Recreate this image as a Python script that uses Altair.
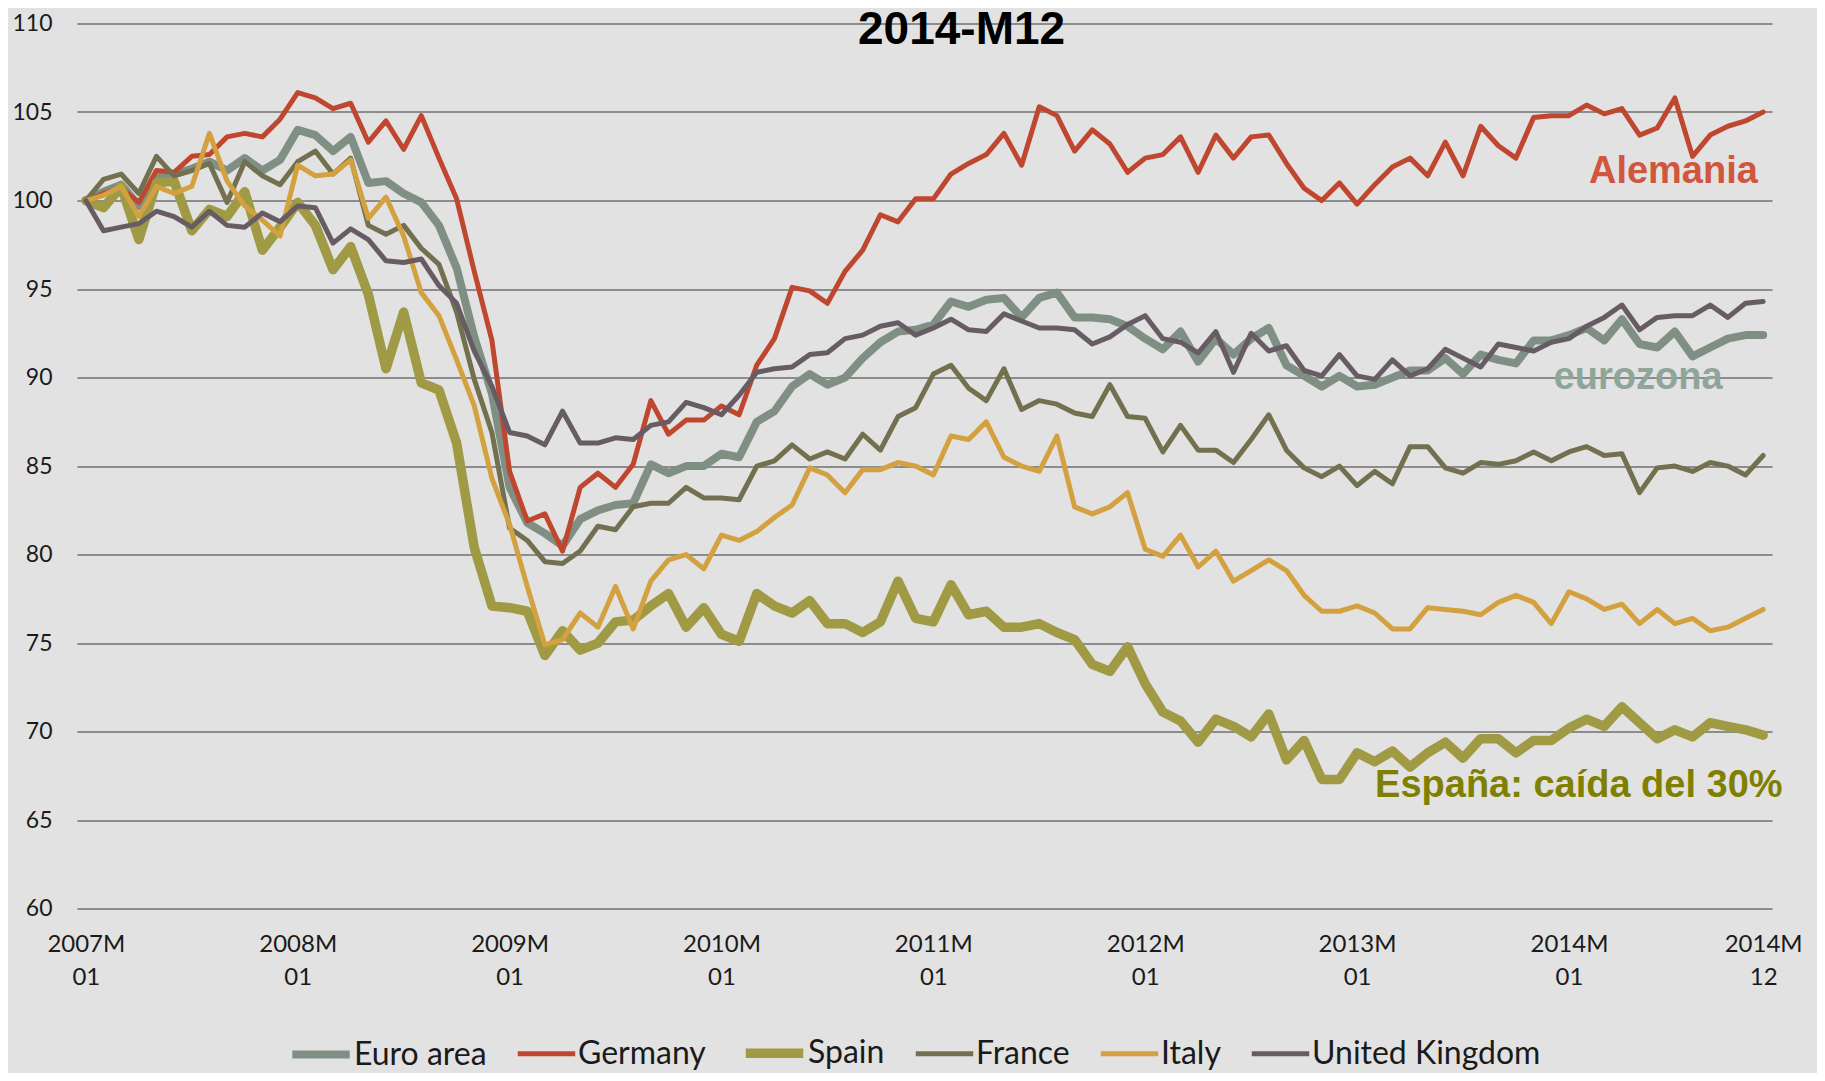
import altair as alt
import pandas as pd

# ---------------- data ----------------
series_names = ["Euro area", "Germany", "Spain", "France", "Italy", "United Kingdom"]
series_colors = ["#7f8f84", "#c0472f", "#a09a45", "#737050", "#d3a140", "#675c64"]
series_widths = [8, 5, 9.5, 5, 5, 5]

months = [f"{2007 + i // 12}M{i % 12 + 1:02d}" for i in range(96)]

euro_area = [100.0, 100.5, 100.9, 99.7, 101.3, 101.5, 101.8, 102.2, 101.7, 102.4, 101.7, 102.3,
             104.0, 103.7, 102.8, 103.6, 101.0, 101.1, 100.4, 99.9, 98.6, 96.2, 92.3, 89.1,
             83.8, 81.8, 81.2, 80.5, 82.0, 82.5, 82.8, 82.9, 85.1, 84.6, 85.0, 85.0,
             85.7, 85.5, 87.5, 88.1, 89.5, 90.2, 89.6, 90.0, 91.1, 92.0, 92.6, 92.7,
             93.0, 94.3, 94.0, 94.4, 94.5, 93.4, 94.5, 94.8, 93.4, 93.4, 93.3, 92.9,
             92.2, 91.6, 92.6, 90.9, 92.2, 91.3, 92.2, 92.8, 90.7, 90.1, 89.5, 90.1,
             89.5, 89.6, 90.0, 90.4, 90.4, 91.1, 90.2, 91.3, 91.0, 90.8, 92.1, 92.1,
             92.4, 92.8, 92.1, 93.3, 91.9, 91.7, 92.6, 91.2, 91.7, 92.2, 92.4, 92.4]

germany = [100.0, 100.4, 100.7, 99.9, 101.7, 101.6, 102.5, 102.6, 103.6, 103.8, 103.6, 104.6,
           106.1, 105.8, 105.2, 105.5, 103.3, 104.5, 102.9, 104.8, 102.4, 100.1, 96.0, 92.1,
           84.7, 81.9, 82.3, 80.2, 83.8, 84.6, 83.8, 85.1, 88.7, 86.8, 87.6, 87.6,
           88.4, 87.9, 90.7, 92.2, 95.1, 94.9, 94.2, 96.0, 97.2, 99.2, 98.8, 100.1,
           100.1, 101.5, 102.1, 102.6, 103.8, 102.0, 105.3, 104.8, 102.8, 104.0, 103.2, 101.6,
           102.4, 102.6, 103.6, 101.6, 103.7, 102.4, 103.6, 103.7, 102.1, 100.7, 100.0, 101.0,
           99.8, 100.9, 101.9, 102.4, 101.4, 103.3, 101.4, 104.2, 103.1, 102.4, 104.7, 104.8,
           104.8, 105.4, 104.9, 105.2, 103.7, 104.1, 105.8, 102.5, 103.7, 104.2, 104.5, 105.0]

spain = [100.0, 99.6, 100.8, 97.8, 101.0, 101.1, 98.3, 99.5, 99.1, 100.5, 97.2, 98.5,
         99.9, 98.6, 96.1, 97.4, 94.7, 90.5, 93.7, 89.7, 89.3, 86.3, 80.4, 77.1,
         77.0, 76.8, 74.3, 75.7, 74.6, 75.0, 76.2, 76.3, 77.1, 77.8, 75.9, 77.0,
         75.5, 75.1, 77.8, 77.1, 76.7, 77.4, 76.1, 76.1, 75.6, 76.2, 78.5, 76.4,
         76.2, 78.3, 76.6, 76.8, 75.9, 75.9, 76.1, 75.6, 75.2, 73.8, 73.4, 74.8,
         72.7, 71.1, 70.6, 69.4, 70.7, 70.3, 69.7, 71.0, 68.4, 69.5, 67.3, 67.3,
         68.8, 68.3, 68.9, 68.0, 68.8, 69.4, 68.5, 69.6, 69.6, 68.8, 69.5, 69.5,
         70.2, 70.7, 70.3, 71.4, 70.5, 69.6, 70.1, 69.7, 70.5, 70.3, 70.1, 69.8]

france = [100.0, 101.2, 101.5, 100.4, 102.5, 101.4, 101.7, 102.1, 99.9, 102.2, 101.4, 100.9,
          102.2, 102.8, 101.5, 102.4, 98.6, 98.1, 98.6, 97.3, 96.4, 93.7, 89.9, 86.9,
          81.5, 80.8, 79.6, 79.5, 80.2, 81.6, 81.4, 82.7, 82.9, 82.9, 83.8, 83.2,
          83.2, 83.1, 85.0, 85.3, 86.2, 85.4, 85.8, 85.4, 86.8, 85.9, 87.8, 88.3,
          90.2, 90.7, 89.4, 88.7, 90.5, 88.2, 88.7, 88.5, 88.0, 87.8, 89.6, 87.8,
          87.7, 85.8, 87.3, 85.9, 85.9, 85.2, 86.5, 87.9, 85.9, 84.9, 84.4, 85.0,
          83.9, 84.7, 84.0, 86.1, 86.1, 84.9, 84.6, 85.2, 85.1, 85.3, 85.8, 85.3,
          85.8, 86.1, 85.6, 85.7, 83.5, 84.9, 85.0, 84.7, 85.2, 85.0, 84.5, 85.6]

italy = [100.0, 100.3, 100.8, 99.1, 100.8, 100.4, 100.8, 103.8, 101.1, 99.7, 98.9, 98.0,
         102.0, 101.4, 101.5, 102.3, 99.0, 100.2, 98.0, 94.8, 93.5, 91.0, 88.4, 84.3,
         81.7, 78.2, 74.9, 75.2, 76.7, 75.9, 78.2, 75.8, 78.5, 79.7, 80.0, 79.2,
         81.1, 80.8, 81.3, 82.1, 82.8, 84.9, 84.5, 83.5, 84.8, 84.8, 85.2, 85.0,
         84.5, 86.7, 86.5, 87.5, 85.5, 85.0, 84.7, 86.7, 82.7, 82.3, 82.7, 83.5,
         80.3, 79.9, 81.1, 79.3, 80.2, 78.5, 79.1, 79.7, 79.1, 77.7, 76.8, 76.8,
         77.1, 76.7, 75.8, 75.8, 77.0, 76.9, 76.8, 76.6, 77.3, 77.7, 77.3, 76.1,
         77.9, 77.5, 76.9, 77.2, 76.1, 76.9, 76.1, 76.4, 75.7, 75.9, 76.4, 76.9]

united_kingdom = [100.0, 98.3, 98.5, 98.7, 99.4, 99.1, 98.5, 99.4, 98.6, 98.5, 99.3, 98.8,
                  99.7, 99.6, 97.6, 98.4, 97.8, 96.6, 96.5, 96.7, 95.2, 94.2, 91.5, 89.5,
                  86.9, 86.7, 86.2, 88.1, 86.3, 86.3, 86.6, 86.5, 87.3, 87.5, 88.6, 88.3,
                  87.9, 89.0, 90.3, 90.5, 90.6, 91.3, 91.4, 92.2, 92.4, 92.9, 93.1, 92.4,
                  92.8, 93.3, 92.7, 92.6, 93.6, 93.2, 92.8, 92.8, 92.7, 91.9, 92.3, 93.0,
                  93.5, 92.2, 92.0, 91.4, 92.6, 90.3, 92.5, 91.5, 91.8, 90.4, 90.1, 91.3,
                  90.1, 89.9, 91.0, 90.1, 90.5, 91.6, 91.1, 90.6, 91.9, 91.7, 91.5, 92.0,
                  92.2, 92.9, 93.4, 94.1, 92.7, 93.4, 93.5, 93.5, 94.1, 93.4, 94.2, 94.3]

tick_positions = [0, 12, 24, 36, 48, 60, 72, 84, 95]
tick_labels = [["2007M", "01"], ["2008M", "01"], ["2009M", "01"], ["2010M", "01"],
               ["2011M", "01"], ["2012M", "01"], ["2013M", "01"], ["2014M", "01"],
               ["2014M", "12"]]
y_ticks = [60, 65, 70, 75, 80, 85, 90, 95, 100, 105, 110]

annot_labels = ["Alemania", "eurozona", "España: caída del 30%"]
annot_month = [94.7, 92.7, 96.1]
annot_value = [101.6, 90.0, 66.9]
annot_colors = ["#d0563e", "#8fa59a", "#7f7f00"]

title_text = ["2014-M12"]
title_month = [49.6]
title_value = [108.85]

# ---------------- tables ----------------
all_values = [euro_area, germany, spain, france, italy, united_kingdom]
rows = []
for name, vals in zip(series_names, all_values):
    for m_i, v in enumerate(vals):
        rows.append({"series": name, "idx": m_i, "month": months[m_i], "value": v})
df = pd.DataFrame(rows)

annot_df = pd.DataFrame({"label": annot_labels, "idx": annot_month,
                         "value": annot_value, "color": annot_colors})
title_df = pd.DataFrame({"label": title_text, "idx": title_month, "value": title_value})

label_expr = ("[" + ",".join("['%s','%s']" % (a, b) for a, b in tick_labels) + "]"
              "[indexof([" + ",".join(str(t) for t in tick_positions) + "], datum.value)]")

AX_FONT = "Lato"
x_scale = alt.Scale(domain=[-0.5, 95.5], nice=False, zero=False)
y_scale = alt.Scale(domain=[60, 110], nice=False, zero=False)

legend_kw = dict(title=None, orient="none", direction="horizontal",
                 legendX=211, legendY=996, symbolType="stroke",
                 symbolSize=3300, labelFont=AX_FONT, labelFontSize=32,
                 labelColor="#1a1a1a", labelOffset=0, columnPadding=20,
                 labelLimit=500, symbolOpacity=1)

lines = alt.Chart(df).mark_line(strokeJoin="round", strokeCap="round").encode(
    x=alt.X("idx:Q", scale=x_scale, title=None,
            axis=alt.Axis(values=tick_positions, labelExpr=label_expr, grid=False,
                          domain=False, ticks=False, labelFlush=False, labelOverlap=False,
                          labelFont=AX_FONT, labelFontSize=24, labelColor="#1a1a1a",
                          labelLineHeight=33, labelPadding=24)),
    y=alt.Y("value:Q", scale=y_scale, title=None,
            axis=alt.Axis(values=y_ticks, grid=True, gridColor="#8c8c8c", gridWidth=2,
                          domain=False, ticks=False, labelFont=AX_FONT, labelFontSize=23,
                          labelColor="#1a1a1a", labelPadding=25)),
    color=alt.Color("series:N", sort=series_names,
                    scale=alt.Scale(domain=series_names, range=series_colors),
                    legend=alt.Legend(**legend_kw)),
    strokeWidth=alt.StrokeWidth("series:N", sort=series_names,
                                scale=alt.Scale(type="ordinal", domain=series_names,
                                                range=series_widths),
                                legend=alt.Legend(**legend_kw)),
    detail="series:N",
)

annots = alt.Chart(annot_df).mark_text(align="right", baseline="middle", font="Liberation Sans",
                                       fontWeight="bold", fontSize=38).encode(
    x=alt.X("idx:Q", scale=x_scale),
    y=alt.Y("value:Q", scale=y_scale),
    text="label:N",
    color=alt.Color("color:N", scale=None),
)

title_mark = alt.Chart(title_df).mark_text(align="center", baseline="alphabetic",
                                           font="Liberation Sans", fontWeight="bold",
                                           fontSize=46, color="#000000").encode(
    x=alt.X("idx:Q", scale=x_scale),
    y=alt.Y("value:Q", scale=y_scale),
    text="label:N",
)

chart = alt.layer(lines, annots, title_mark).properties(
    width=1695,
    height=885,
    autosize=alt.AutoSizeParams(type="none"),
    padding={"left": 69, "top": 15.6, "right": 45, "bottom": 164},
    background="#e2e2e2",
).configure_view(stroke=None)

chart.save("out.html", embed_options={"renderer": "svg", "actions": False})
